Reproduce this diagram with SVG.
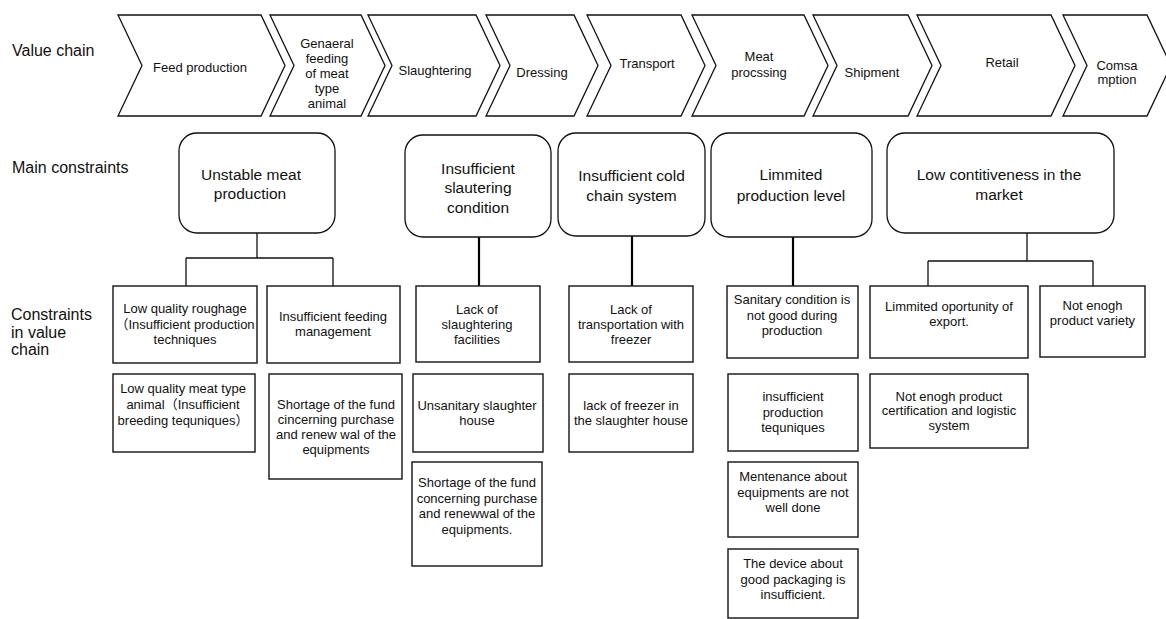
<svg xmlns="http://www.w3.org/2000/svg" width="1166" height="619" viewBox="0 0 1166 619">
<style>
text{font-family:"Liberation Sans",Arial,"Noto Sans CJK SC",sans-serif;fill:#111;text-anchor:middle}
.lbl{font-size:16px;text-anchor:start}
.cv{fill:#fff;stroke:#111;stroke-width:1.3}
.cvt{font-size:13px}
.mb{fill:#fff;stroke:#111;stroke-width:1.3}
.mbt{font-size:15.5px}
.sb{fill:#fff;stroke:#222;stroke-width:1.5}
.sbt{font-size:13px}
.cn{fill:none;stroke:#111;stroke-width:1.3}
.cnb{fill:none;stroke:#000;stroke-width:2.2}
</style>
<rect width="1166" height="619" fill="#fff"/>

<g id="labels">
<text class="lbl" x="12" y="56">Value chain</text>
<text class="lbl" x="12" y="173">Main constraints</text>
<text class="lbl" x="11" y="320">Constraints</text>
<text class="lbl" x="11" y="337.5">in value</text>
<text class="lbl" x="11" y="355">chain</text>
</g>

<g id="chain-feed">
<path class="cv" d="M118,15 L261,15 L285,65.5 L261,116 L118,116 L142,65.5 Z"/>
<text class="cvt" x="200" y="72">Feed production</text>
</g>
<g id="chain-feeding">
<path class="cv" d="M270,15 L361,15 L385,65.5 L361,116 L270,116 L294,65.5 Z"/>
<text class="cvt" x="327" y="48">Genaeral</text>
<text class="cvt" x="327" y="63">feeding</text>
<text class="cvt" x="327" y="78">of meat</text>
<text class="cvt" x="327" y="93">type</text>
<text class="cvt" x="327" y="108">animal</text>
</g>
<g id="chain-slaughtering">
<path class="cv" d="M368,15 L476,15 L500,65.5 L476,116 L368,116 L392,65.5 Z"/>
<text class="cvt" x="435" y="75">Slaughtering</text>
</g>
<g id="chain-dressing">
<path class="cv" d="M486,15 L574,15 L598,65.5 L574,116 L486,116 L510,65.5 Z"/>
<text class="cvt" x="542" y="77">Dressing</text>
</g>
<g id="chain-transport">
<path class="cv" d="M587,15 L681,15 L705,65.5 L681,116 L587,116 L611,65.5 Z"/>
<text class="cvt" x="647" y="68">Transport</text>
</g>
<g id="chain-processing">
<path class="cv" d="M692,15 L804,15 L828,65.5 L804,116 L692,116 L716,65.5 Z"/>
<text class="cvt" x="759" y="61">Meat</text>
<text class="cvt" x="759" y="77">procssing</text>
</g>
<g id="chain-shipment">
<path class="cv" d="M813,15 L908,15 L932,65.5 L908,116 L813,116 L837,65.5 Z"/>
<text class="cvt" x="872" y="77">Shipment</text>
</g>
<g id="chain-retail">
<path class="cv" d="M917,15 L1051,15 L1075,65.5 L1051,116 L917,116 L941,65.5 Z"/>
<text class="cvt" x="1002" y="67">Retail</text>
</g>
<g id="chain-consumption">
<path class="cv" d="M1063,15 L1147,15 L1171,65.5 L1147,116 L1063,116 L1087,65.5 Z"/>
<text class="cvt" x="1117" y="70">Comsa</text>
<text class="cvt" x="1117" y="84">mption</text>
</g>

<g id="connectors">
<path class="cn" d="M257,233 V258 M186,258 H333 M186,258 V286 M333,258 V286"/>
<path class="cnb" d="M479,237 V286"/>
<path class="cnb" d="M632,236 V286"/>
<path class="cnb" d="M793,237 V286"/>
<path class="cn" d="M1027,233 V261 M928,261 H1093 M928,261 V286 M1093,261 V286"/>
</g>

<g id="main-unstable">
<rect class="mb" x="179" y="133" width="156" height="100" rx="18"/>
<text class="mbt" x="251" y="179.5">Unstable meat</text>
<text class="mbt" x="250" y="199">production</text>
</g>
<g id="main-slaughtering">
<rect class="mb" x="405" y="135" width="146" height="102" rx="18"/>
<text class="mbt" x="478" y="173.5">Insufficient</text>
<text class="mbt" x="478" y="193">slautering</text>
<text class="mbt" x="478" y="212.5">condition</text>
</g>
<g id="main-cold">
<rect class="mb" x="558" y="133" width="147" height="103" rx="18"/>
<text class="mbt" x="631.5" y="181">Insufficient cold</text>
<text class="mbt" x="631.5" y="201">chain system</text>
</g>
<g id="main-production">
<rect class="mb" x="711" y="133" width="161" height="104" rx="18"/>
<text class="mbt" x="791" y="180">Limmited</text>
<text class="mbt" x="791" y="201">production level</text>
</g>
<g id="main-market">
<rect class="mb" x="887" y="133" width="227" height="100" rx="18"/>
<text class="mbt" x="999" y="179.5">Low contitiveness in the</text>
<text class="mbt" x="999" y="200">market</text>
</g>

<g id="c-roughage">
<rect class="sb" x="113" y="286" width="144" height="77"/>
<text class="sbt" x="185" y="313">Low quality roughage</text>
<text class="sbt" x="185" y="328.5">（Insufficient production</text>
<text class="sbt" x="185" y="344">techniques</text>
</g>
<g id="c-feeding">
<rect class="sb" x="267" y="286" width="133" height="77"/>
<text class="sbt" x="333" y="321">Insufficient feeding</text>
<text class="sbt" x="333" y="336">management</text>
</g>
<g id="c-breeding">
<rect class="sb" x="113" y="374" width="142" height="78"/>
<text class="sbt" x="183" y="393">Low quality meat type</text>
<text class="sbt" x="183" y="409">animal（Insufficient</text>
<text class="sbt" x="183" y="424.5">breeding tequniques）</text>
</g>
<g id="c-fund1">
<rect class="sb" x="269" y="374" width="133" height="105"/>
<text class="sbt" x="336" y="409">Shortage of the fund</text>
<text class="sbt" x="336" y="424">cincerning purchase</text>
<text class="sbt" x="336" y="439">and renew wal of the</text>
<text class="sbt" x="336" y="454">equipments</text>
</g>
<g id="c-facilities">
<rect class="sb" x="416" y="286" width="124" height="76"/>
<text class="sbt" x="477" y="314">Lack of</text>
<text class="sbt" x="477" y="329">slaughtering</text>
<text class="sbt" x="477" y="344">facilities</text>
</g>
<g id="c-unsanitary">
<rect class="sb" x="413" y="374" width="130" height="78"/>
<text class="sbt" x="477" y="410">Unsanitary slaughter</text>
<text class="sbt" x="477" y="425">house</text>
</g>
<g id="c-fund2">
<rect class="sb" x="412" y="462" width="130" height="104"/>
<text class="sbt" x="477" y="487">Shortage of the fund</text>
<text class="sbt" x="477" y="502.5">concerning purchase</text>
<text class="sbt" x="477" y="518">and renewwal of the</text>
<text class="sbt" x="477" y="533.5">equipments.</text>
</g>
<g id="c-transport">
<rect class="sb" x="569" y="286" width="124" height="76"/>
<text class="sbt" x="631" y="314">Lack of</text>
<text class="sbt" x="631" y="329">transportation with</text>
<text class="sbt" x="631" y="344">freezer</text>
</g>
<g id="c-freezer">
<rect class="sb" x="569" y="374" width="124" height="78"/>
<text class="sbt" x="631" y="410">lack of freezer in</text>
<text class="sbt" x="631" y="425">the slaughter house</text>
</g>
<g id="c-sanitary">
<rect class="sb" x="727" y="286" width="131" height="72"/>
<text class="sbt" x="792" y="304">Sanitary condition is</text>
<text class="sbt" x="792" y="319.5">not good during</text>
<text class="sbt" x="792" y="335">production</text>
</g>
<g id="c-techniques">
<rect class="sb" x="728" y="374" width="130" height="77"/>
<text class="sbt" x="793" y="401">insufficient</text>
<text class="sbt" x="793" y="416.5">production</text>
<text class="sbt" x="793" y="432">tequniques</text>
</g>
<g id="c-maintenance">
<rect class="sb" x="728" y="462" width="130" height="75"/>
<text class="sbt" x="793" y="481">Mentenance about</text>
<text class="sbt" x="793" y="496.5">equipments are not</text>
<text class="sbt" x="793" y="512">well done</text>
</g>
<g id="c-packaging">
<rect class="sb" x="728" y="549" width="130" height="69"/>
<text class="sbt" x="793" y="568">The device about</text>
<text class="sbt" x="793" y="583.5">good packaging is</text>
<text class="sbt" x="793" y="599">insufficient.</text>
</g>
<g id="c-export">
<rect class="sb" x="870" y="286" width="158" height="72"/>
<text class="sbt" x="949" y="311">Limmited oportunity of</text>
<text class="sbt" x="949" y="326">export.</text>
</g>
<g id="c-variety">
<rect class="sb" x="1040" y="286" width="105" height="71"/>
<text class="sbt" x="1092.5" y="310">Not enogh</text>
<text class="sbt" x="1092.5" y="325">product variety</text>
</g>
<g id="c-certification">
<rect class="sb" x="870" y="374" width="158" height="74"/>
<text class="sbt" x="949" y="400.5">Not enogh product</text>
<text class="sbt" x="949" y="415">certification and logistic</text>
<text class="sbt" x="949" y="429.5">system</text>
</g>
</svg>
